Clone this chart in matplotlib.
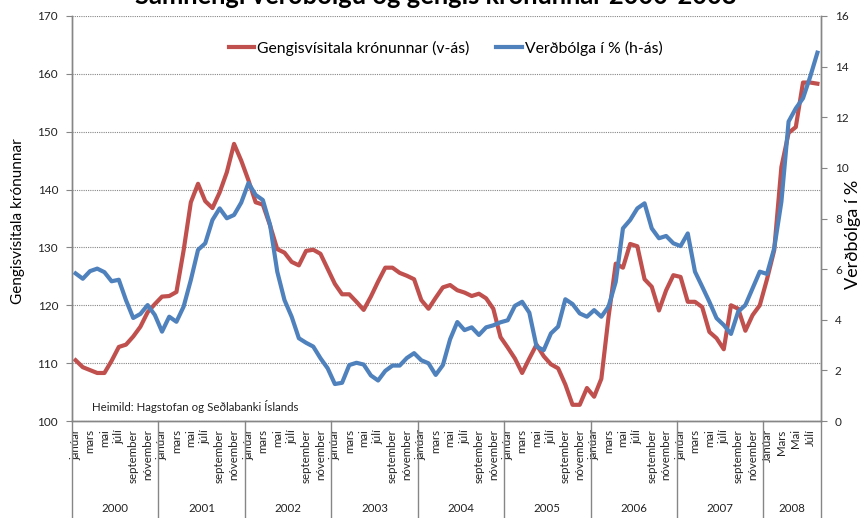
import matplotlib.pyplot as plt
from matplotlib.transforms import blended_transform_factory

plt.rcParams['font.family'] = ['Lato', 'DejaVu Sans']

# --- Gögn: mánaðargildi jan 2000 - ágú 2008 ---
ar = ['2000', '2001', '2002', '2003', '2004', '2005', '2006', '2007', '2008']
manudir = ['janúar', 'mars', 'mai', 'júlí', 'september', 'nóvember']
manudir_2008 = ['Janúar', 'Mars', 'Mai', 'Júlí']

# Gengisvísitala krónunnar (vinstri ás)
gengi = [
    110.5, 109.3, 108.8, 108.3, 108.3, 110.4, 112.8, 113.2, 114.6, 116.3, 118.8, 120.2,  # 2000
    121.5, 121.6, 122.3, 129.5, 137.8, 141.0, 138.0, 136.8, 139.5, 143.0, 147.9, 145.0,  # 2001
    141.6, 137.8, 137.4, 133.8, 129.7, 129.1, 127.5, 126.9, 129.4, 129.6, 128.9, 126.3,  # 2002
    123.7, 121.9, 121.9, 120.6, 119.2, 121.5, 124.1, 126.5, 126.5, 125.6, 125.1, 124.5,  # 2003
    120.9, 119.4, 121.3, 123.1, 123.5, 122.6, 122.2, 121.6, 122.0, 121.2, 119.4, 114.5,  # 2004
    112.7, 110.8, 108.3, 110.8, 113.2, 111.2, 109.8, 109.1, 106.3, 102.8, 102.8, 105.7,  # 2005
    104.2, 107.3, 118.0, 127.2, 126.5, 130.6, 130.2, 124.5, 123.2, 119.1, 122.6, 125.2,  # 2006
    124.9, 120.6, 120.6, 119.7, 115.4, 114.3, 112.4, 120.0, 119.4, 115.6, 118.3, 120.0,  # 2007
    124.5, 129.5, 143.9, 149.8, 150.8, 158.5, 158.5, 158.3,                              # 2008
]

# Verðbólga í % (hægri ás)
verdbolga = [
    5.83, 5.62, 5.92, 6.02, 5.88, 5.52, 5.58, 4.77, 4.07, 4.23, 4.58, 4.19,  # 2000
    3.53, 4.12, 3.92, 4.52, 5.57, 6.76, 7.02, 7.94, 8.40, 8.01, 8.14, 8.63,  # 2001
    9.40, 8.93, 8.73, 7.75, 5.90, 4.78, 4.12, 3.27, 3.09, 2.94, 2.48, 2.08,  # 2002
    1.46, 1.51, 2.21, 2.30, 2.23, 1.80, 1.60, 1.98, 2.19, 2.19, 2.49, 2.68,  # 2003
    2.40, 2.28, 1.82, 2.21, 3.23, 3.91, 3.59, 3.70, 3.40, 3.70, 3.78, 3.90,  # 2004
    3.98, 4.55, 4.71, 4.28, 2.94, 2.80, 3.46, 3.73, 4.81, 4.62, 4.25, 4.12,  # 2005
    4.38, 4.12, 4.52, 5.50, 7.61, 7.94, 8.40, 8.60, 7.61, 7.22, 7.31, 7.02,  # 2006
    6.91, 7.41, 5.90, 5.31, 4.71, 4.06, 3.79, 3.44, 4.32, 4.58, 5.24, 5.90,  # 2007
    5.81, 6.82, 8.66, 11.83, 12.35, 12.75, 13.60, 14.55,                     # 2008
]

rautt = '#C0504D'
blatt = '#4F81BD'
grar = '#868686'
texti = '#222222'

x = list(range(len(gengi)))

fig = plt.figure(figsize=(8.66, 5.18), dpi=100)
ax = fig.add_axes([72 / 866, 1 - 421 / 518, (821 - 72) / 866, 405 / 518])
ax2 = ax.twinx()

l1, = ax.plot(x, gengi, color=rautt, lw=3, solid_joinstyle='round')
l2, = ax2.plot(x, verdbolga, color=blatt, lw=3, solid_joinstyle='round')

ax.set_xlim(-0.5, len(gengi) - 0.5)
ax.set_ylim(100, 170)
ax.set_yticks(range(100, 171, 10))
ax2.set_ylim(0, 16)
ax2.set_yticks(range(0, 17, 2))

ax.grid(axis='y', color=grar, linestyle=(0, (1, 1)), lw=0.8)
ax.set_axisbelow(True)

for a in (ax, ax2):
    a.spines['top'].set_visible(False)
    for s in ('left', 'right', 'bottom'):
        a.spines[s].set_color(grar)
        a.spines[s].set_linewidth(1)
ax.tick_params(axis='y', colors=grar, labelcolor=texti, labelsize=8.5, length=4, pad=6)
ax2.tick_params(axis='y', colors=grar, labelcolor=texti, labelsize=8.5, length=4, pad=6)

# mánaðarheiti (annar hver mánuður)
merki = []
for a_ in ar[:-1]:
    merki += manudir
merki += manudir_2008
ax.set_xticks(range(0, len(gengi), 2))
ax.set_xticklabels(merki, rotation=90, fontsize=8.3, color=texti)
ax.tick_params(axis='x', length=0, pad=6)

# árabil með lóðréttum skilum
tr = blended_transform_factory(ax.transData, ax.transAxes)
skil = [-0.5 + 12 * k for k in range(len(ar))] + [len(gengi) - 0.5]
for s in skil:
    ax.plot([s, s], [0, -0.24], transform=tr, color=grar, lw=1, clip_on=False)
for k, a_ in enumerate(ar):
    midja = (skil[k] + skil[k + 1]) / 2
    ax.text(midja, -0.217, a_, transform=tr, ha='center', va='center', fontsize=8.3, color=texti)

ax.set_ylabel('Gengisvísitala krónunnar', fontsize=11)
ax.yaxis.set_label_coords(-0.063, 0.494)
ax2.set_ylabel('Verðbólga í %', fontsize=13)
ax2.yaxis.set_label_coords(1.032, 0.46)

ax.legend([l1, l2], ['Gengisvísitala krónunnar (v-ás)', 'Verðbólga í % (h-ás)'],
          loc='center', bbox_to_anchor=(0.499, 0.921), ncol=2, frameon=False,
          fontsize=11.3, handlelength=1.6, columnspacing=1.7, handletextpad=0.2)

ax.text(0.027, 0.025, 'Heimild: Hagstofan og Seðlabanki Íslands', transform=ax.transAxes,
        fontsize=8.3, color=texti)

fig.text(0.503, 1 - 4 / 518, 'Samhengi verðbólgu og gengis krónunnar 2000-2008',
         ha='center', va='baseline', fontsize=18.4, weight='bold')

fig.savefig('out.png', dpi=100)
